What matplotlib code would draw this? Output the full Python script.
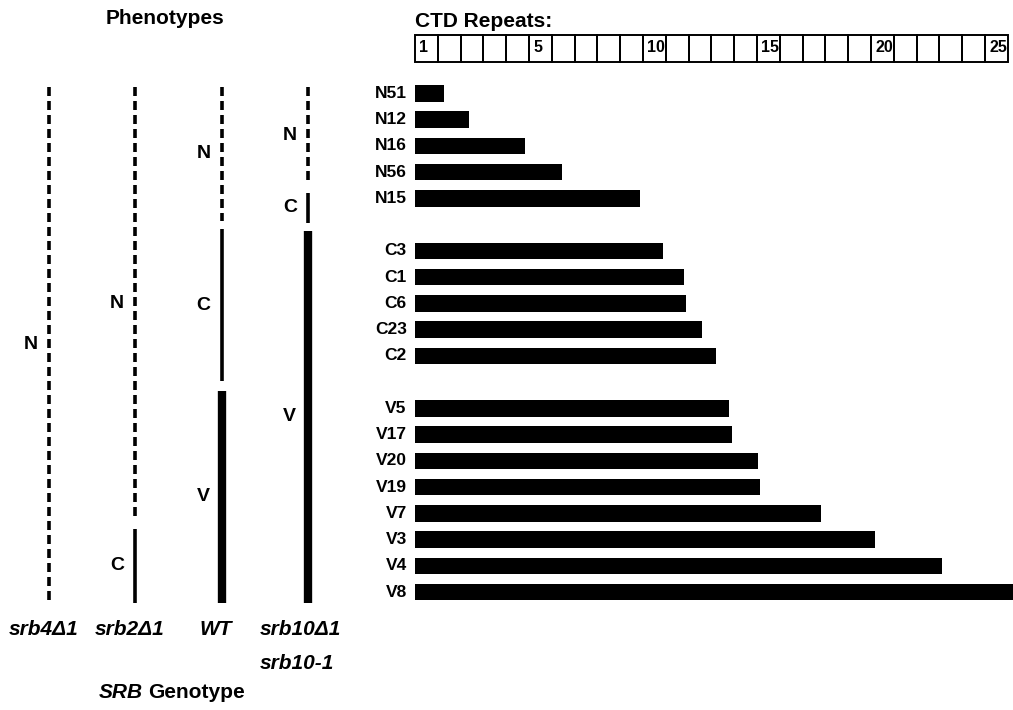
import matplotlib
matplotlib.use("Agg")
import matplotlib.pyplot as plt
from matplotlib.patches import Rectangle

# ---------------- data ----------------
strains = ['N51', 'N12', 'N16', 'N56', 'N15',
           'C3', 'C1', 'C6', 'C23', 'C2',
           'V5', 'V17', 'V20', 'V19', 'V7', 'V3', 'V4', 'V8']
strain_groups = ['N'] * 5 + ['C'] * 5 + ['V'] * 8
ctd_repeats = [1.27, 2.37, 4.81, 6.43, 9.87,
               10.89, 11.81, 11.89, 12.60, 13.21,
               13.77, 13.92, 15.03, 15.15, 17.82, 20.19, 23.11, 26.3]

header_cells = 26
header_labels = ['1', '5', '10', '15', '20', '25']
header_label_cells = [0, 5, 10, 15, 20, 25]

genotypes = ['srb4Δ1', 'srb2Δ1', 'WT', 'srb10Δ1\nsrb10-1']
# phenotype segments per genotype, extents expressed in strain-row units
pheno_names = [['N'], ['N', 'C'], ['N', 'C', 'V'], ['N', 'C', 'V']]
pheno_start = [[-0.25], [-0.25, 16.6], [-0.25, 5.18, 11.35], [-0.25, 3.78, 5.23]]
pheno_end = [[19.4], [16.3, 19.4], [4.85, 10.95, 19.4], [3.5, 4.95, 19.4]]

# ---------------- layout ----------------
W, H = 1013, 710
fig = plt.figure(figsize=(W / 100, H / 100), dpi=100)
fig.patch.set_facecolor('white')

BOLD = ['Liberation Sans', 'DejaVu Sans']


def fx(px):
    return px / W


def fy(py):
    return 1 - py / H


row0_px, row_step = 93.3, 26.25
top_px, bot_px = 60, 620
ylim = ((bot_px - row0_px) / row_step, (top_px - row0_px) / row_step)

unit = 22.8
x0_px = 415
ax = fig.add_axes([fx(x0_px), fy(bot_px), fx(header_cells * unit), (bot_px - top_px) / H])
ax.set_xlim(0, header_cells)
ax.set_ylim(*ylim)
ax.axis('off')

rows = []
g_idx = 0
prev = strain_groups[0]
for i, g in enumerate(strain_groups):
    if g != prev:
        g_idx += 1
        prev = g
    rows.append(i + g_idx)

ax.barh(rows, ctd_repeats, height=0.63, left=0, color='black', clip_on=False)
for r, name in zip(rows, strains):
    ax.annotate(name, xy=(0, r), xytext=(-6, 0), textcoords='offset points',
                ha='right', va='center', fontsize=12.5, fontweight='bold',
                family=BOLD)

# header box
hax = fig.add_axes([fx(x0_px), fy(61.5), fx(header_cells * unit), 27 / H])
hax.set_xlim(0, header_cells)
hax.set_ylim(0, 1)
hax.axis('off')
for c in range(header_cells):
    hax.add_patch(Rectangle((c, 0), 1, 1, fill=False, edgecolor='black',
                            linewidth=1.4, clip_on=False))
for lab, c in zip(header_labels, header_label_cells):
    hax.annotate(lab, xy=(c, 0.5), xytext=(3, 0), textcoords='offset points',
                 ha='left', va='center', fontsize=11.5, fontweight='bold',
                 family=BOLD)
hax.annotate('CTD Repeats:', xy=(0, 1), xytext=(0, 5.5), textcoords='offset points',
             ha='left', va='baseline', fontsize=15, fontweight='bold', family=BOLD)

# left phenotype panel
line_px0, line_step = 49, 86.3
lax = fig.add_axes([0, fy(bot_px), fx(400), (bot_px - top_px) / H])
lax.set_xlim(-line_px0 / line_step, (400 - line_px0) / line_step)
lax.set_ylim(*ylim)
lax.axis('off')

for gi, (names, starts, ends) in enumerate(zip(pheno_names, pheno_start, pheno_end)):
    for nm, s, e in zip(names, starts, ends):
        if nm == 'N':
            ln, = lax.plot([gi, gi], [s, e], color='black', lw=2.6,
                           solid_capstyle='butt', dash_capstyle='butt')
            ln.set_dashes((9 * 0.72 / 2.6, 5 * 0.72 / 2.6))
        elif nm == 'C':
            lax.plot([gi, gi], [s, e], color='black', lw=2.6, solid_capstyle='butt')
        else:
            lax.plot([gi, gi], [s, e], color='black', lw=6.0, solid_capstyle='butt')
        lax.annotate(nm, xy=(gi, (s + e) / 2), xytext=(-13, 0), textcoords='offset points',
                     ha='center', va='center', fontsize=14, fontweight='bold', family=BOLD)

# genotype labels
for gi, gname in enumerate(genotypes):
    lines = gname.split('\n')
    if len(lines) == 1:
        lax.annotate(lines[0], xy=(gi, ylim[0]), xycoords='data',
                     xytext=(-4, -9 * 0.72), textcoords='offset points',
                     ha='center', va='center', fontsize=15, fontweight='bold',
                     fontstyle='italic', family=BOLD, annotation_clip=False)
    else:
        for li, t in enumerate(lines):
            lax.annotate(t, xy=(gi, ylim[0]), xycoords='data',
                         xytext=(-48 * 0.72, (-9 - 34 * li) * 0.72), textcoords='offset points',
                         ha='left', va='center', fontsize=15, fontweight='bold',
                         fontstyle='italic', family=BOLD, annotation_clip=False)

fig.text(fx(143), fy(692), 'SRB', ha='right', va='center', fontsize=15,
         fontweight='bold', fontstyle='italic', family=BOLD)
fig.text(fx(148), fy(692), 'Genotype', ha='left', va='center', fontsize=15,
         fontweight='bold', family=BOLD)
fig.text(fx(165), fy(19), 'Phenotypes', ha='center', va='center', fontsize=15,
         fontweight='bold', family=BOLD)

fig.savefig('out.png', dpi=100, facecolor='white')
